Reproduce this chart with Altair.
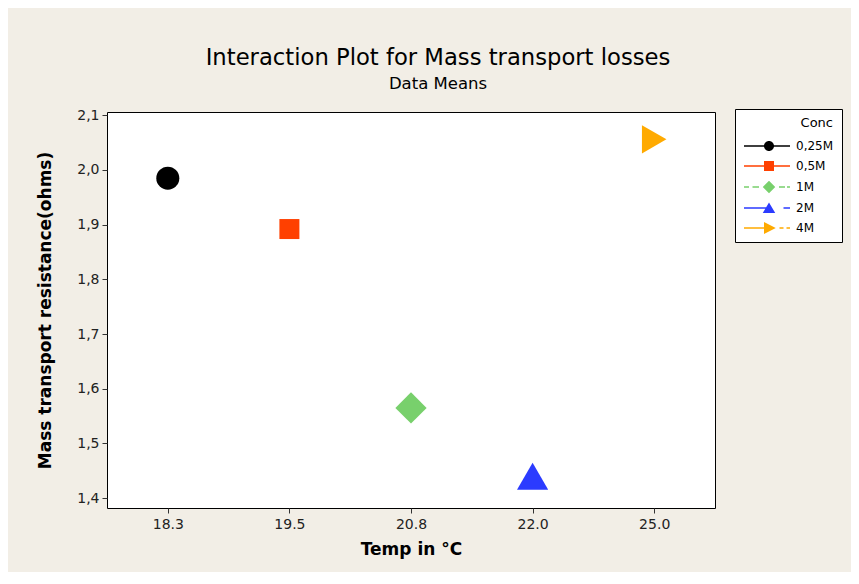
import altair as alt
import pandas as pd

# ---- data ----
temps = ["18.3", "19.5", "20.8", "22.0", "25.0"]
concs = ["0,25M", "0,5M", "1M", "2M", "4M"]
means = [1.985, 1.892, 1.565, 1.440, 2.056]
y_ticks = [1.4, 1.5, 1.6, 1.7, 1.8, 1.9, 2.0, 2.1]

# ---- styling ----
colors = ["#000000", "#ff4000", "#78d06c", "#2b3bff", "#ffaa00"]
point_shapes = ["circle", "square", "diamond", "triangle-up", "triangle-right"]
point_sizes = [530, 400, 975, 975, 800]
BG = "#f2eee6"


def seg(x0, x1, t=0.14):
    return f"M{x0},{-t}H{x1}V{t}H{x0}Z"


def segs(parts):
    return "".join(seg(a, b) for a, b in parts)


C = 4.0
circle = f"M{C+1},0A1,1 0 1,1 {C-1},0A1,1 0 1,1 {C+1},0Z"
square = f"M{C-1},-1H{C+1}V1H{C-1}Z"
diamond = f"M{C},-1.25L{C+1.25},0L{C},1.25L{C-1.25},0Z"
tri_up = f"M{C},-1.1L{C+1.25},1L{C-1.25},1Z"
tri_right = f"M{C-1},-1.2L{C+1.35},0L{C-1},1.2Z"

legend_paths = [
    segs([(-1, 8.2)]) + circle,
    segs([(-1, 8.2)]) + square,
    segs([(-1, 0.0), (0.7, 2.0), (6.0, 7.2), (7.6, 8.2)]) + diamond,
    segs([(-1, C), (6.9, 8.2)]) + tri_up,
    segs([(-1, C), (6.1, 6.9), (7.5, 8.2)]) + tri_right,
]

df = pd.DataFrame({"Temp": temps, "Conc": concs, "Mean": means})

x_enc = alt.X(
    "Temp:O",
    sort=temps,
    scale=alt.Scale(type="point", padding=0.5),
    axis=alt.Axis(
        title="Temp in °C",
        labelAngle=0,
        labelFontSize=14,
        labelPadding=4,
        titleFontSize=17,
        titlePadding=10,
    ),
)
y_enc = alt.Y(
    "Mean:Q",
    scale=alt.Scale(domain=[1.382, 2.106], nice=False, zero=False),
    axis=alt.Axis(
        title="Mass transport resistance(ohms)",
        values=y_ticks,
        labelExpr="replace(format(datum.value, '.1f'), '.', ',')",
        labelFontSize=14,
        labelPadding=3,
        titleFontSize=17,
        titlePadding=22,
    ),
)

points = alt.Chart(df).mark_point(filled=True, opacity=1).encode(
    x=x_enc,
    y=y_enc,
    color=alt.Color("Conc:N", scale=alt.Scale(domain=concs, range=colors), legend=None),
    shape=alt.Shape("Conc:N", scale=alt.Scale(domain=concs, range=point_shapes), legend=None),
    size=alt.Size(
        "Conc:N",
        scale=alt.Scale(type="ordinal", domain=concs, range=point_sizes),
        legend=None,
    ),
)

legend_layer = alt.Chart(df).transform_filter("false").mark_point(
    filled=True, opacity=1, size=81
).encode(
    x="Temp:O",
    y="Mean:Q",
    color=alt.Color(
        "Conc:N",
        scale=alt.Scale(domain=concs, range=colors),
        legend=alt.Legend(
            title="Conc",
            orient="none",
            legendX=628,
            legendY=-3,
            direction="vertical",
            strokeColor="#000000",
            fillColor="#ffffff",
            padding=8,
            labelOffset=41,
            rowPadding=8,
            labelFontSize=12,
            titleFontSize=13,
            titleFontWeight="normal",
            titleAnchor="end",
            titlePadding=10,
            labelFont="DejaVu Sans",
            titleFont="DejaVu Sans",
            labelExpr="datum.label + ' '",
        ),
    ),
    shape=alt.Shape(
        "Conc:N",
        scale=alt.Scale(domain=concs, range=legend_paths),
    ),
)

chart = (
    alt.layer(points, legend_layer)
    .resolve_scale(color="independent", shape="independent", size="independent")
    .properties(
        width=608,
        height=396,
        autosize=alt.AutoSizeParams(type="none"),
        padding={"left": 99, "top": 104, "right": 136, "bottom": 64},
        background=BG,
        title=alt.TitleParams(
            text="Interaction Plot for Mass transport losses",
            subtitle="Data Means",
            anchor="middle",
            dx=27,
            offset=16,
            font="DejaVu Sans",
            fontSize=22.7,
            fontWeight="normal",
            subtitleFont="DejaVu Sans",
            subtitleFontSize=16.5,
            subtitlePadding=6,
            color="#000000",
            subtitleColor="#000000",
        ),
    )
    .configure_view(stroke="#000000", strokeWidth=1, fill="#ffffff")
    .configure_axis(
        grid=False,
        domain=False,
        tickColor="#333333",
        tickSize=5,
        labelColor="#222222",
        titleColor="#000000",
        labelFont="DejaVu Sans",
        titleFont="DejaVu Sans",
        titleFontWeight="bold",
    )
)

chart.save("out.html", embed_options={"renderer": "svg", "actions": False})
